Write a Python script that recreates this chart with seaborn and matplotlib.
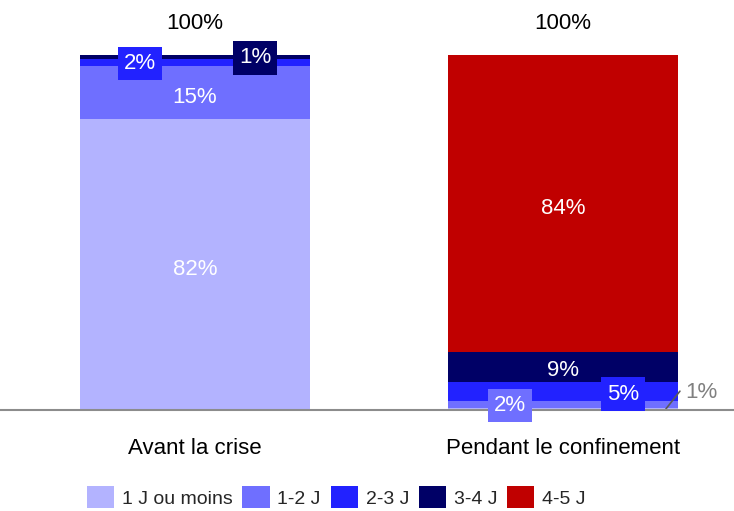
import numpy as np
import matplotlib.pyplot as plt
import seaborn as sns
from matplotlib.patches import Patch

categories = ["Avant la crise", "Pendant le confinement"]
series = ["1 J ou moins", "1-2 J", "2-3 J", "3-4 J", "4-5 J"]
avant = [82.0, 15.0, 2.0, 1.0, 0.0]
pendant = [0.6, 2.0, 5.2, 8.6, 83.6]
colors = ["#B3B3FF", "#6F6FFF", "#2222FF", "#000066", "#C00000"]

sns.set_theme(style="white")
plt.rcParams["font.family"] = ["Liberation Sans", "DejaVu Sans"]

values = np.array([avant, pendant])  # rows = categories, cols = series
cum = values.cumsum(axis=1)

fig = plt.figure(figsize=(7.34, 5.11), dpi=100)
ax = fig.add_axes([0, 0.1977, 1, 0.8023])

# stacked bars: draw the cumulative totals from top layer down
for i in range(len(series) - 1, -1, -1):
    sns.barplot(x=categories, y=cum[:, i], color=colors[i], width=0.625,
                saturation=1, linewidth=0, ax=ax)

# segment labels (special placement for the thin segments)
special = {
    (0, 2): (-0.15, 97.6),
    (0, 3): (0.163, 99.2),
    (1, 1): (0.856, 1.3),
    (1, 2): (1.163, 4.5),
}
for c in range(len(categories)):
    for s in range(len(series)):
        v = values[c, s]
        if v < 0.5:
            continue
        txt = f"{v:.0f}%"
        if (c, s) in special:
            x, y = special[(c, s)]
            ax.text(x, y, txt, ha="center", va="center", color="white", fontsize=16,
                    bbox=dict(boxstyle="square,pad=0.28", fc=colors[s], ec="none"))
        elif c == 1 and s == 0:
            ax.plot([1.28, 1.318], [0.3, 5.3], color="#595959", lw=1.2, clip_on=False)
            ax.text(1.332, 4.9, txt, ha="left", va="center", color="#808080", fontsize=16)
        else:
            y = cum[c, s] - v / 2 - 1.4
            if c == 1 and s == 3:
                y = 11.0
            ax.text(c, y, txt, ha="center", va="center", color="white", fontsize=16)

# totals
for c in range(len(categories)):
    ax.text(c, 108.8, f"{values[c].sum():.0f}%", ha="center", va="center",
            color="black", fontsize=16)

ax.set_xlim(-0.53, 1.465)
ax.set_ylim(0, 115.5)
ax.set_yticks([])
ax.tick_params(axis="x", length=0, pad=20, labelsize=16, colors="black")
for sp in ["top", "left", "right"]:
    ax.spines[sp].set_visible(False)
ax.spines["bottom"].set_color("#8C8C8C")
ax.spines["bottom"].set_linewidth(1.5)

handles = [Patch(facecolor=col, edgecolor="none", label=lab) for col, lab in zip(colors, series)]
fig.legend(handles=handles, loc="center", bbox_to_anchor=(0.458, 0.027), ncol=5,
           frameon=False, fontsize=14, handlelength=1.4, handleheight=1.35,
           handletextpad=0.4, columnspacing=0.5, borderaxespad=0)

fig.savefig("out.png", dpi=100)
